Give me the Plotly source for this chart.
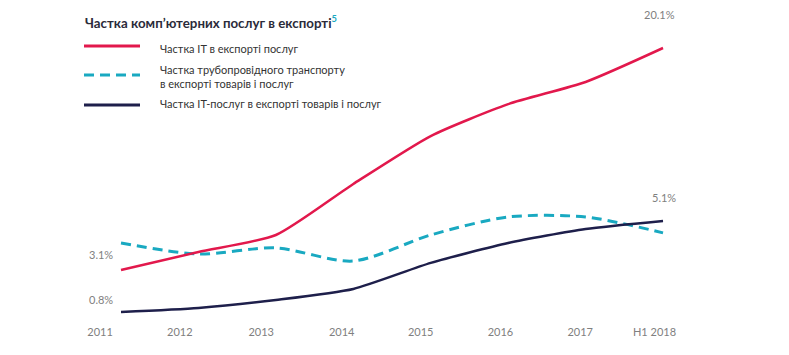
import plotly.graph_objects as go

# ---- data ----
periods = ["2011", "2012", "2013", "2014", "2015", "2016", "2017", "H1 2018"]
it_share_services = [3.1, 4.48, 5.78, 9.69, 13.36, 15.8, 17.5, 20.1]
pipeline_share = [4.06, 3.54, 3.83, 3.21, 4.44, 5.29, 5.29, 4.54]
it_share_total = [0.8, 0.99, 1.37, 1.89, 3.12, 4.06, 4.72, 5.1]

names = [
    "Частка IT в експорті послуг",
    "Частка трубопровідного транспорту<br>в експорті товарів і послуг",
    "Частка IT-послуг в експорті товарів і послуг",
]
title_text = "Частка комп’ютерних послуг в експорті"

RED = "#E2184C"
CYAN = "#19A9C1"
NAVY = "#1E1F4B"
GRAY = "#808080"
FONT = "Lato, 'Open Sans', sans-serif"

OFF = 8               # page body margin
W, H = 789 - OFF, 355 - OFF
PLOT_BOTTOM = 316     # px from figure top

xs = list(range(len(periods)))
label_pos = [-0.27, 0.76, 1.81, 2.85, 3.87, 4.90, 5.93, 6.89]

fig = go.Figure()
fig.add_trace(go.Scatter(x=xs, y=it_share_services, yaxis="y2", mode="lines",
                         line=dict(color=RED, width=2.5, shape="spline", smoothing=0.6),
                         name=names[0], hoverinfo="skip"))
fig.add_trace(go.Scatter(x=xs, y=pipeline_share, yaxis="y", mode="lines",
                         line=dict(color=CYAN, width=3, dash="10px,6px", shape="spline", smoothing=0.8),
                         name=names[1], hoverinfo="skip"))
fig.add_trace(go.Scatter(x=xs, y=it_share_total, yaxis="y", mode="lines",
                         line=dict(color=NAVY, width=2.5, shape="spline", smoothing=0.6),
                         name=names[2], hoverinfo="skip"))


def px(p):
    return (p - OFF) / W


def py(p):
    return (PLOT_BOTTOM - (p - OFF)) / PLOT_BOTTOM


shapes = []
ann = []
legend_rows = [(RED, None, 46, 48), (CYAN, "10px,6px", 75, 76), (NAVY, None, 105, 104)]
for (col, dash, ly, ty), nm in zip(legend_rows, names):
    line = dict(color=col, width=3)
    if dash:
        line["dash"] = dash
    shapes.append(dict(type="line", xref="paper", yref="paper",
                       x0=px(84), x1=px(140), y0=py(ly), y1=py(ly), line=line))
    ann.append(dict(text=nm, xref="paper", yref="paper", x=px(158), y=py(ty),
                    xanchor="left", yanchor="middle", showarrow=False, align="left",
                    font=dict(family=FONT, size=11, color="#333333")))

ann.append(dict(text=f"<b>{title_text}<sup><span style='color:{CYAN}'>5</span></sup></b>",
                xref="paper", yref="paper", x=px(83), y=py(22), xanchor="left", yanchor="middle",
                showarrow=False, font=dict(family=FONT, size=13.3, color="#2B2B3A")))

# value labels
ann += [
    dict(text=f"{it_share_services[-1]}%", x=xs[-1], y=it_share_services[-1], xref="x", yref="y2",
         xshift=-4, yshift=34, showarrow=False, font=dict(family=FONT, size=11, color=GRAY)),
    dict(text=f"{it_share_total[-1]}%", x=xs[-1], y=it_share_total[-1], xref="x", yref="y",
         xshift=1, yshift=24, showarrow=False, font=dict(family=FONT, size=11, color=GRAY)),
    dict(text=f"{it_share_services[0]}%", x=xs[0], y=it_share_services[0], xref="x", yref="y2",
         xanchor="right", xshift=-6, yshift=16, showarrow=False, font=dict(family=FONT, size=11, color=GRAY)),
    dict(text=f"{it_share_total[0]}%", x=xs[0], y=it_share_total[0], xref="x", yref="y",
         xanchor="right", xshift=-6, yshift=13, showarrow=False, font=dict(family=FONT, size=11, color=GRAY)),
]

fig.update_layout(
    width=W, height=H,
    margin=dict(l=0, r=0, t=0, b=H - PLOT_BOTTOM),
    paper_bgcolor="white", plot_bgcolor="white",
    showlegend=False,
    xaxis=dict(range=[-1.4594, 8.627], tickvals=label_pos, ticktext=periods,
               showgrid=False, zeroline=False, showline=False, ticks="",
               tickfont=dict(family=FONT, size=11, color=GRAY), fixedrange=True),
    yaxis=dict(range=[0.233, 15.165], visible=False, fixedrange=True),
    yaxis2=dict(range=[-1.035, 23.163], overlaying="y", visible=False, fixedrange=True),
    shapes=shapes,
    annotations=ann,
)

fig.write_html("out.html")
